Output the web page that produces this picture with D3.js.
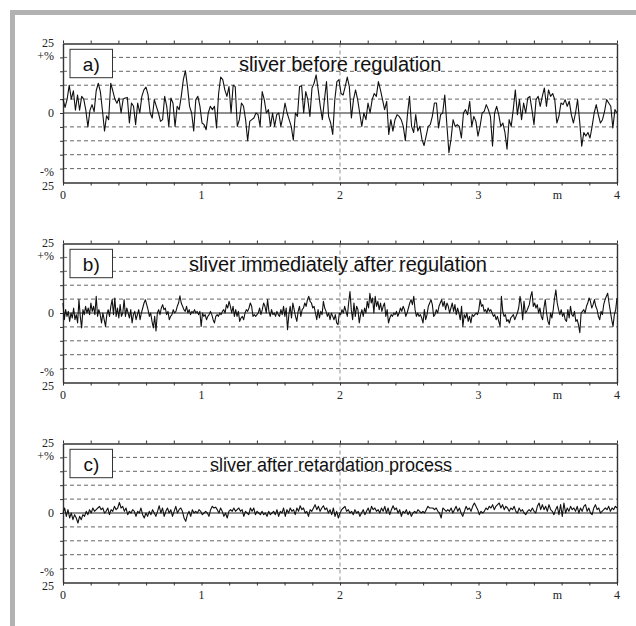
<!DOCTYPE html>
<html>
<head>
<meta charset="utf-8">
<script src="https://cdn.jsdelivr.net/npm/d3@7"></script>
<style>
  body{margin:0;background:#fff;}
  svg{display:block;}
</style>
</head>
<body>
<div id="chart"></div>
<script>
// distance along sliver (m), deviation (%)
var distLabels = [0,1,2,3,4];
var gridPct = [-20,-15,-10,-5,5,10,15,20];
var pctLabels = [25,20,0,-20,-25];
var pctTexts = ["25","+%","0","-%","25"];
var panelLabels = ["a)","b)","c)"];
var panelTitles = ["sliver before regulation","sliver immediately after regulation","sliver after retardation process"];

// a) sliver before regulation
var sliverA = [
  5,2,5,10,5,8,1,6.5,1,6,
  5,1,-5,1,3,0.5,8,10.7,7.7,1,
  -6.5,-1,-2.4,10.7,8,5,3.5,5.4,0,5,
  5.4,5.6,-3.6,3.6,2.4,-4.2,3.6,0,6,8.3,
  9.3,6.5,0,-1.8,4.8,2.4,0,-3,-2.4,6,
  2.4,-4.8,5.4,3.6,-4.8,2.4,1.2,6,12,15.2,
  9.5,2.4,0,-6.5,4.8,6,2.4,-3.6,-4.2,-6,
  0,2.4,1.2,2.4,-5.4,7,12.9,12,8.3,6,
  9.5,0,10,9.5,-4.8,-2.4,3.6,2.4,-2.4,-10,
  -3,-2.4,-1.8,0,-0.6,-4.8,7.7,4.8,0,1.2,
  -4.8,0,-4.8,-0.6,0,-4.8,-1.2,3.6,0,-2.4,
  -4.8,-9.8,0,-1.2,9.5,9.8,0,7.7,4.8,-1.2,
  9,
  10.7,13.7,8.3,2.4,-2.4,4.8,11.3,-1.2,-3.6,-7.7,
  4.8,11.3,12,7,6.5,9.5,12.9,9.5,-1.8,4.8,
  8.3,4.8,0,-4.8,0,-2.4,3.6,0,4.8,7,
  6,11.3,8.3,4.8,1.2,4.2,-7.7,-2.4,-6.5,-2.4,
  -0.6,-1.2,-2.4,-4.8,-10,-0.6,6,-4.8,-7,-0.6,
  -6.5,-4.8,-9.5,-11.7,-8.3,-4.8,-4.2,-1.2,3.6,3.6,
  -5.4,-0.6,0,6.5,-4.2,-14.3,-9.5,-2.4,-4.8,-4.2,
  -4.8,-9,0,1.2,-0.6,4.2,-4.8,-1.2,-3,-8.3,
  -4.8,0,0.6,3,1.2,-1.2,-11.9,0,2.4,-0.6,
  -4.8,-3.6,-7,-13,-2.4,-4.8,1.2,8.3,-0.6,4.8,
  -2.4,3.6,0,5.4,6,1.2,-4.2,4.8,6,2.4,
  6,9,2.4,8.3,6,7,4.8,-3.6,-1.2,3.6,
  3,4.8,2.4,4.2,-0.6,-3.6,0,4.8,-3,-11.9,
  -7,-8.3,-7,-9,-4.8,0,3,-0.6,-3.6,-2.4,
  0.6,4.8,3.6,2.4,-5.4,1.2,0
];

// b) sliver immediately after regulation
var sliverB = [
  3.6,-2.4,1.2,-1.2,0.6,-3,0,-1.8,1.8,-2.4,-0.6,-3.6,4.8,-1.2,-5.4,1.2,-0.6,2.4,0,1.8,
  -0.6,3.6,0.6,2.4,-0.6,6,-1.2,1.2,-0.6,-3.6,0,-2.4,-4.8,-0.6,1.2,-1.2,2.4,4.8,-0.6,5.4,
  -1.2,1.8,-1.8,3,-1.2,0,4.8,-1.2,1.8,0,-1.8,1.2,-3.6,-0.6,0.6,-2.4,-0.6,1.2,-2.4,0,
  1.8,3.6,4.8,3,1.2,-1.2,0,-3,-5.4,-1.2,-6.5,0,1.2,-0.6,1.8,3,1.2,1.8,-0.6,0.6,
  -2.4,-1.2,-0.6,1.2,0,0.6,2.4,3.6,6.2,3.6,2.4,1.2,0.6,2.4,0,1.2,-0.6,0.6,0,1.2,
  0,0.6,-0.6,0.6,-4.8,0,-1.2,-0.6,-2.4,-1.2,-0.6,0.6,-0.6,-2.4,-3.6,-1.2,-0.6,-1.2,0,-0.6,
  0.6,1.2,0,3,1.8,4.2,2.4,0,2.4,-1.2,1.2,-1.2,0.6,-3,-1.8,-1.2,-2.4,0,1.2,0.6,
  1.8,3.6,2.4,-1.2,-0.6,-1.2,-0.6,0,
  1.8,-0.6,1.2,3.6,2.4,0,4.8,0.6,-1.2,1.2,-0.6,0,-1.2,0.6,-0.6,-1.2,1.2,-0.6,2.4,-1.2,
  1.8,-6,-0.6,2.4,-1.8,3.6,1.2,-1.2,-3,0.6,2.4,-1.2,1.2,1.8,3.6,2.4,4.8,6,4.2,3.6,
  1.8,2.4,0,-2.4,1.2,-1.8,0.6,-0.6,4.2,1.8,0.6,-1.2,0,-2.4,0,-1.2,-2.4,-0.6,-3.6,-4.2,
  0,-0.6,1.2,0,2.4,0.6,-1.2,3.6,7.7,1.2,-2.4,3.6,-1.2,2.4,1.2,-3.6,-0.6,1.2,-1.2,1.8,
  0,4.2,1.8,7.1,3.6,5.4,0,6,2.4,4.2,1.2,3.6,0.6,2.4,3.6,-1.2,1.2,-3.6,-1.8,-0.6,
  -1.2,0,-0.6,0.6,-1.2,0,1.8,0.6,2.4,1.2,-1.2,0,1.8,3.6,4.8,3,6,1.2,-1.2,0,
  -1.2,-0.6,-1.8,-3.6,1.2,-2.4,-0.6,2.4,3.6,4.8,3,-1.2,-0.6,1.2,0,2.4,3.6,4.8,2.4,4.2,
  1.2,3.6,2.4,
  0,1.8,3.6,0.6,3,-0.6,1.8,0,-2.4,2.4,-4.8,-0.6,-1.8,0,-3,-1.2,-3.6,-0.6,-1.2,-0.6,
  0,-0.6,1.2,4.8,2.4,3,0.6,1.2,0,1.8,0.6,1.2,0,-1.2,-0.6,-2.4,-1.2,-3,-4.8,6,
  0.6,-1.2,-0.6,-3,-2.4,-3.6,-1.8,-1.2,-0.6,-2.4,-1.2,0,1.8,6,3,-2.4,4.2,0,0.6,1.8,
  3,6,7.7,2.4,3.6,1.8,3,0,1.8,-1.2,-2.4,1.8,4.8,0,-3,-4.2,0,-1.8,1.2,5.4,
  8.3,3.6,1.2,-0.6,1.2,-1.2,0,-2.4,-3,1.2,-1.8,2.4,-0.6,-1.2,0.6,-3,-2.4,-4.2,-7.1,0,
  0.6,1.2,0,2.4,3.6,5.4,4.2,1.8,3,4.8,2.4,1.2,-1.2,-2.4,0.6,-0.6,3,4.8,6,7.1,
  3.6,0.6,-2.4,-4.8,-0.6,1.2,5.4
];

// c) sliver after retardation process
var sliverC = [
  0,1.8,-1.2,1.2,-1.8,0,-2.4,-0.6,-1.8,-3.6,-1.2,-2.4,-0.6,-1.2,0.6,-0.6,1.2,0,1.8,0.6,
  1.2,1.8,2.4,1.2,1.8,0,0.6,1.8,-0.6,1.2,0.6,2.4,1.2,1.8,3.8,1.8,2.4,0.6,1.8,-0.6,
  0.6,0,1.2,0.6,-1.2,0.6,0,1.8,-0.6,-1.8,0,-1.2,0.6,-0.6,1.2,0,-1.2,0.6,2.6,0,
  1.8,-1.2,0.6,1.8,0,1.2,-1.2,0.6,2.4,0,1.2,1.8,0.6,-1.8,-3,-0.6,0.6,-1.2,1.2,0,
  0.6,0,1.2,0.6,-0.6,0,0.6,0,-1.2,1.2,2.4,1.8,2.1,1.2,0,1.8,0.6,-1.2,0,-1.8,
  0.6,1.2,0.6,1.8,0.6,1.2,1.8,0.6,1.2,-1.2,0.6,0,-0.6,1.8,0.6,1.8,-0.6,0.6,
  0,-0.6,0.6,-0.6,0,-1.2,0.6,-0.6,0,0.6,-0.6,1.2,-1.2,0.6,0,1.8,-1.2,1.2,0,1.8,
  0.6,1.2,-0.6,1.8,0.6,2.6,1.2,1.8,0,0.6,-1.2,1.2,0.6,1.8,3,1.2,2.4,0.6,1.8,2.6,
  1.2,1.8,0,1.2,-0.6,1.8,-1.2,0.6,-1.8,0,1.2,1.8,2.4,0.6,1.2,0,0.6,-0.6,1.2,0,
  0.6,-1.2,0,1.2,-0.6,0.6,1.8,0,2.4,1.2,1.8,0.6,1.2,0,1.8,0.6,2.4,0,1.8,-0.6,
  1.2,2.6,1.2,1.8,0,1.2,-1.2,0.6,0,1.2,-0.6,0.6,-1.2,0,0.6,0,1.2,0.6,0,0.6,
  0,1.2,2.4,1.8,1.8,1.8,1.2,1.8,0.6,0,-1.8,1.8,1.2,0.6,1.2,
  0.6,1.8,0,1.2,2.4,0.6,1.8,0,-1.2,0.6,2.4,1.2,1.8,0.6,2.4,3.6,2.4,1.2,-0.6,0.6,
  0,0.6,1.8,1.2,2.4,1.8,3,1.2,2.4,3,3.6,1.8,3,1.2,2.4,1.8,0.6,1.8,1.2,2.4,
  0.6,0,1.8,0.6,1.2,0,-0.6,0.6,1.2,0.6,1.8,0.6,0,2.4,3.6,1.2,3,1.2,2.4,0.6,
  3,1.2,0.6,-0.6,1.2,2.4,-0.6,3,-1.2,3.6,0,1.8,0.6,2.4,1.2,1.8,0.6,2.4,0,1.8,
  0.6,2.4,3,0.6,1.8,0,-0.6,1.8,3,1.2,1.8,0,0.6,1.2,1.8,1.2,2.4,0.6,1.8,1.2,
  2.4,1.8
];

var series = [sliverA, sliverB, sliverC];
var titleStart = [239, 189, 210];
var titleSize = [20, 20, 18];

var svg = d3.select("#chart").append("svg")
    .attr("width", 636)
    .attr("height", 626);

// grey frame (top + left)
svg.append("rect").attr("x",10).attr("y",10).attr("width",626).attr("height",5).attr("fill","#b2b2b2");
svg.append("rect").attr("x",10).attr("y",10).attr("width",5).attr("height",616).attr("fill","#b2b2b2");

var x = d3.scaleLinear().domain([0,4]).range([63,617]);
var minorTicks = x.ticks(20);

series.forEach(function(vals, k){
    var top = 43.5 + k*200;
    var y = d3.scaleLinear().domain([-25,25]).range([top+139, top]);
    var idx = d3.scaleLinear().domain([0, vals.length-1]).range([0,4]);
    var g = svg.append("g");

    // dashed grid
    g.selectAll(".grid").data(gridPct).enter().append("line")
        .attr("x1", x(0)).attr("x2", x(4))
        .attr("y1", function(d){ return y(d); })
        .attr("y2", function(d){ return y(d); })
        .attr("stroke","#555").attr("stroke-width",0.9)
        .attr("stroke-dasharray","4,3");

    // dashed marker at 2 m
    g.append("line")
        .attr("x1", x(2)).attr("x2", x(2))
        .attr("y1", y(25)).attr("y2", y(-25))
        .attr("stroke","#888").attr("stroke-width",0.9)
        .attr("stroke-dasharray","4,3");

    // zero line
    g.append("line")
        .attr("x1", x(0)).attr("x2", x(4))
        .attr("y1", y(0)).attr("y2", y(0))
        .attr("stroke","#222").attr("stroke-width",1.2);

    // axes
    var axTop = g.append("g").attr("transform","translate(0,"+y(25)+")")
        .call(d3.axisTop(x).tickValues(minorTicks).tickSize(3).tickSizeOuter(0).tickFormat(""));
    var axBot = g.append("g").attr("transform","translate(0,"+y(-25)+")")
        .call(d3.axisBottom(x).tickValues(minorTicks).tickSize(3).tickSizeOuter(0).tickFormat(""));
    var axLeft = g.append("g").attr("transform","translate("+x(0)+",0)")
        .call(d3.axisLeft(y).tickValues(gridPct.concat([0])).tickSize(3).tickSizeOuter(0).tickFormat(""));
    var axRight = g.append("g").attr("transform","translate("+x(4)+",0)")
        .call(d3.axisRight(y).tickValues([]).tickSizeOuter(0));
    [axTop, axBot, axLeft, axRight].forEach(function(a){
        a.select(".domain").attr("stroke","#333").attr("stroke-width",1.4);
        a.selectAll(".tick line").attr("stroke","#333").attr("stroke-width",1);
    });

    // y labels
    g.selectAll(".ylab").data(pctLabels).enter().append("text")
        .attr("x", 54)
        .attr("y", function(d){ return y(d) + (d>0 ? 3 : d<0 ? 7 : 4.2); })
        .attr("text-anchor","end")
        .attr("font-family","'Liberation Serif', serif")
        .attr("font-size",12)
        .attr("fill","#222")
        .text(function(d,i){ return pctTexts[i]; });

    // x labels
    g.selectAll(".xlab").data(distLabels).enter().append("text")
        .attr("x", function(d){ return x(d); })
        .attr("y", y(-25) + 16)
        .attr("text-anchor","middle")
        .attr("font-family","'Liberation Serif', serif")
        .attr("font-size",12)
        .attr("fill","#222")
        .text(function(d){ return d; });
    g.append("text")
        .attr("x", x(3.57)).attr("y", y(-25) + 16)
        .attr("text-anchor","middle")
        .attr("font-family","'Liberation Serif', serif")
        .attr("font-size",12)
        .attr("fill","#222")
        .text("m");

    // data line
    g.append("path")
        .datum(vals)
        .attr("fill","none")
        .attr("stroke","#111")
        .attr("stroke-width",1.1)
        .attr("stroke-linejoin","round")
        .attr("d", d3.line()
            .x(function(d,i){ return x(idx(i)); })
            .y(function(d){ return y(d); }));

    // label box
    g.append("rect")
        .attr("x",70).attr("y",top+5.8)
        .attr("width",42.5).attr("height",28.4)
        .attr("fill","#fff").attr("stroke","#333").attr("stroke-width",1);
    g.append("text")
        .attr("x",91.3).attr("y",top+27.5)
        .attr("text-anchor","middle")
        .attr("font-family","'Liberation Sans', Arial, sans-serif")
        .attr("font-size",19)
        .attr("fill","#111")
        .text(panelLabels[k]);

    // title
    g.append("text")
        .attr("x", titleStart[k]).attr("y", top+27)
        .attr("font-family","'Liberation Sans', Arial, sans-serif")
        .attr("font-size",titleSize[k])
        .attr("fill","#111")
        .text(panelTitles[k]);
});
</script>
</body>
</html>
